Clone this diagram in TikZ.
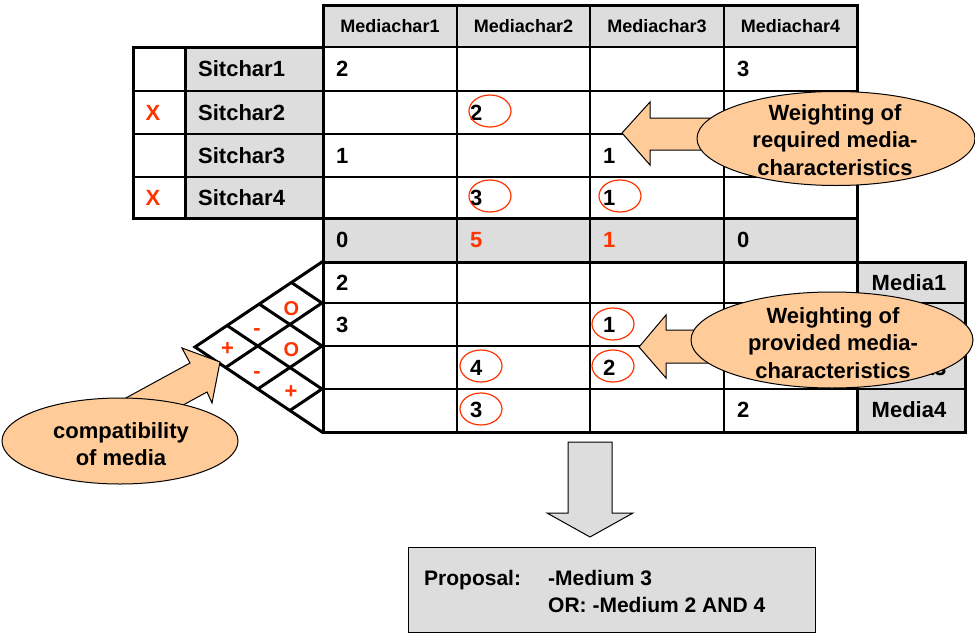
\documentclass[tikz,border=0pt]{standalone}
\usepackage{fontspec}
\setmainfont{Liberation Sans}
\usetikzlibrary{shapes.geometric}
\definecolor{cellgray}{RGB}{221,221,221}
\definecolor{markred}{RGB}{255,51,0}
\definecolor{calloutfill}{RGB}{255,204,153}

\begin{document}
\begin{tikzpicture}[x=1pt,y=-1pt,
  bold rule/.style={line width=3pt, line join=miter, line cap=rect},
  fine rule/.style={line width=1.5pt},
  grid rule/.style={line width=3pt, line cap=round},
  cellfont/.style={font=\bfseries\fontsize{22}{27}\selectfont, inner sep=0pt, text height=15.75pt, text depth=0pt},
  headfont/.style={font=\bfseries\fontsize{18}{22}\selectfont, inner sep=0pt, text height=12.9pt, text depth=0pt},
  val/.style={cellfont, anchor=west},
  redval/.style={cellfont, anchor=west, text=markred},
  compmark/.style={font=\bfseries\fontsize{22}{27}\selectfont, inner sep=0pt, anchor=base, text=markred},
  compround/.style={font=\bfseries\fontsize{20}{24}\selectfont, inner sep=0pt, anchor=base, text=markred},
  ring/.style={draw=markred, line width=1.2pt},
  callout/.style={ellipse, draw=black, line width=1pt, fill=calloutfill, inner sep=0pt},
  callouttext/.style={font=\bfseries\fontsize{22}{27.5}\selectfont, align=center, inner sep=0pt},
  blockarrow/.style={draw=black, line width=1pt, line join=miter, fill=calloutfill},
  grayarrow/.style={draw=black, line width=1pt, line join=miter, fill=cellgray},
  propfont/.style={font=\bfseries\fontsize{21}{26}\selectfont, inner sep=0pt, text height=15pt, text depth=0pt, anchor=west}
]
\useasboundingbox (0,0) rectangle (975,637);

% ---------- cell backgrounds ----------
\fill[cellgray] (323,5) rectangle (857,47);
\fill[cellgray] (185,47) rectangle (323,218);
\fill[cellgray] (323,218) rectangle (857,262);
\fill[cellgray] (857,262) rectangle (965,432);

% ---------- thin rules ----------
\draw[fine rule] (323,47) -- (857,47);
\foreach \y in {91,134,177} \draw[fine rule] (133,\y) -- (857,\y);
\foreach \y in {303,346,389} \draw[fine rule] (323,\y) -- (965,\y);
\foreach \x in {457,590,724} \draw[fine rule] (\x,5) -- (\x,432);

% ---------- heavy outlines ----------
\draw[bold rule] (323,432) -- (323,5) -- (857,5) -- (857,432);
\draw[bold rule] (323,47) -- (133,47) -- (133,218) -- (857,218);
\draw[bold rule] (185,47) -- (185,218);
\draw[bold rule] (323,262) -- (965,262) -- (965,432) -- (323,432);

% ---------- compatibility triangle ----------
\coordinate (tri top) at (322,262);
\coordinate (tri left) at (195,347);
\coordinate (tri bottom) at (322,432);
\draw[bold rule] (tri top) -- (tri left) -- (tri bottom);
\draw[grid rule] (322,303) -- (225.6,367.5);
\draw[grid rule] (322,346) -- (257.8,389);
\draw[grid rule] (322,389) -- (289.9,410.5);
\draw[grid rule] (322,303) -- (291.4,282.5);
\draw[grid rule] (322,346) -- (259.2,304);
\draw[grid rule] (322,389) -- (227.1,325.5);

\node[compround] (cmp12) at (291.5,315.5) {O};
\node[compmark] (cmp13) at (257,335.5) {-};
\node[compmark] (cmp14) at (227.5,355) {+};
\node[compround] (cmp23) at (291.5,356.5) {O};
\node[compmark] (cmp24) at (257,378) {-};
\node[compmark] (cmp34) at (291,398.5) {+};

% ---------- headers ----------
\node[headfont] (mc1) at (390,26) {Mediachar1};
\node[headfont] (mc2) at (523.5,26) {Mediachar2};
\node[headfont] (mc3) at (657,26) {Mediachar3};
\node[headfont] (mc4) at (790.5,26) {Mediachar4};

\node[cellfont, anchor=west] (sc1) at (198,69) {Sitchar1};
\node[cellfont, anchor=west] (sc2) at (198,112.5) {Sitchar2};
\node[cellfont, anchor=west] (sc3) at (198,155.5) {Sitchar3};
\node[cellfont, anchor=west] (sc4) at (198,197.5) {Sitchar4};

\node[cellfont, text=markred] (x2) at (153,112.5) {X};
\node[cellfont, text=markred] (x4) at (153,197.5) {X};

\node[cellfont] (md1) at (909,283) {Media1};
\node[cellfont] (md2) at (909,325) {Media2};
\node[cellfont] (md3) at (909,367.5) {Media3};
\node[cellfont] (md4) at (909,410) {Media4};

% ---------- required weightings ----------
\node[val] (r11) at (336,69) {2};
\node[val] (r14) at (737,69) {3};
\node[val] (r22) at (470,112.5) {2};
\node[val] (r31) at (336,155.5) {1};
\node[val] (r33) at (603,155.5) {1};
\node[val] (r42) at (470,197.5) {3};
\node[val] (r43) at (603,197.5) {1};
\draw[ring] (490,111) ellipse [x radius=21pt, y radius=16pt];
\draw[ring] (490,196) ellipse [x radius=21pt, y radius=16pt];
\draw[ring] (620,196) ellipse [x radius=21pt, y radius=16pt];

% ---------- sums ----------
\node[val] (s1) at (336,240) {0};
\node[redval] (s2) at (470,240) {5};
\node[redval] (s3) at (603,240) {1};
\node[val] (s4) at (737,240) {0};

% ---------- provided weightings ----------
\node[val] (p11) at (336,282.5) {2};
\node[val] (p21) at (336,324.5) {3};
\node[val] (p23) at (603,324.5) {1};
\node[val] (p32) at (470,367.5) {4};
\node[val] (p33) at (603,367.5) {2};
\node[val] (p42) at (470,410) {3};
\node[val] (p44) at (737,410) {2};
\draw[ring] (613,324) ellipse [x radius=21pt, y radius=16pt];
\draw[ring] (481,366) ellipse [x radius=21pt, y radius=16pt];
\draw[ring] (613,366) ellipse [x radius=21pt, y radius=16pt];
\draw[ring] (481,409) ellipse [x radius=21pt, y radius=16pt];

% ---------- callout: required characteristics ----------
\draw[blockarrow] (720,118) -- (650,118) -- (650,102) -- (622,133) -- (650,165) -- (650,150) -- (720,150);
\node[callout, minimum width=278pt, minimum height=94pt] (req) at (836,138.5) {};
\node[callouttext] (reqtext) at (835,140) {Weighting of\\required media-\\characteristics};

% ---------- callout: provided characteristics ----------
\draw[blockarrow] (720,330) -- (666,330) -- (666,315) -- (639,347) -- (666,378) -- (666,363) -- (720,363);
\node[callout, minimum width=282pt, minimum height=96pt] (prov) at (832,340) {};
\node[callouttext] (provtext) at (833,343) {Weighting of\\provided media-\\characteristics};

% ---------- callout: compatibility ----------
\draw[blockarrow] (102,411) -- (190,363) -- (182,348) -- (220,362) -- (212,403) -- (207,392) -- (119,440);
\node[callout, minimum width=236pt, minimum height=86pt] (comp) at (120,441) {};
\node[callouttext] (comptext) at (121,444) {compatibility\\of media};

% ---------- result ----------
\draw[grayarrow] (568,442) -- (612,442) -- (612,513) -- (633,513) -- (590,537) -- (547,513) -- (568,513) -- cycle;
\node[draw=black, line width=1pt, fill=cellgray, minimum width=407pt, minimum height=85pt, inner sep=0pt] (prop) at (611.5,589.5) {};
\node[propfont] (proplabel) at (424,578) {Proposal:};
\node[propfont] (prop1) at (548,578) {-Medium 3};
\node[propfont] (prop2) at (548,605) {OR: -Medium 2 AND 4};
\end{tikzpicture}
\end{document}
